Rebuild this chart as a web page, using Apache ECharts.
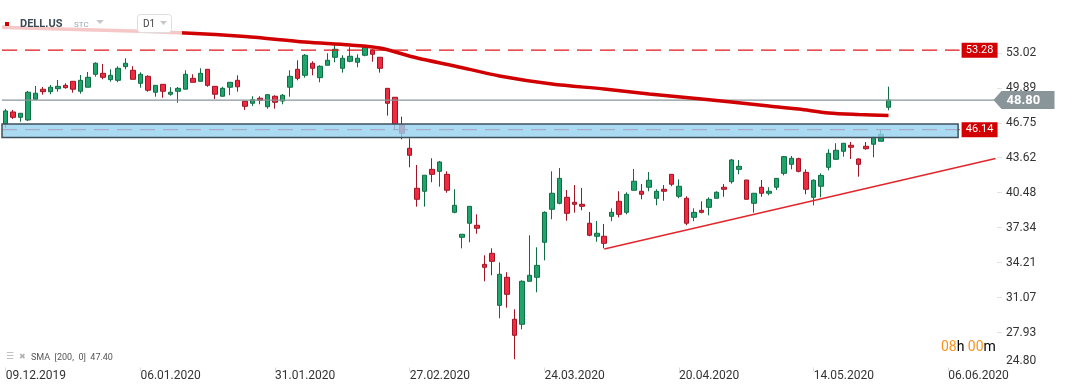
<!DOCTYPE html>
<html><head><meta charset="utf-8">
<script src="https://cdn.jsdelivr.net/npm/echarts@6/dist/echarts.min.js"></script>
<style>html,body{margin:0;padding:0;background:#fff}#c{width:1066px;height:392px}</style>
</head><body><div id="c"></div>
<script>
// ---------- DATA ----------
const dates = [
'09.12.2019','10.12.2019','11.12.2019','12.12.2019','13.12.2019','16.12.2019','17.12.2019','18.12.2019','19.12.2019','20.12.2019',
'23.12.2019','24.12.2019','26.12.2019','27.12.2019','30.12.2019','31.12.2019','02.01.2020','03.01.2020','06.01.2020','07.01.2020',
'08.01.2020','09.01.2020','10.01.2020','13.01.2020','14.01.2020','15.01.2020','16.01.2020','17.01.2020','21.01.2020','22.01.2020',
'23.01.2020','24.01.2020','27.01.2020','28.01.2020','29.01.2020','30.01.2020','31.01.2020','03.02.2020','04.02.2020','05.02.2020',
'06.02.2020','07.02.2020','10.02.2020','11.02.2020','12.02.2020','13.02.2020','14.02.2020','18.02.2020','19.02.2020','20.02.2020',
'21.02.2020','24.02.2020','25.02.2020','26.02.2020','27.02.2020','28.02.2020','02.03.2020','03.03.2020','04.03.2020','05.03.2020',
'06.03.2020','09.03.2020','10.03.2020','11.03.2020','12.03.2020','13.03.2020','16.03.2020','17.03.2020','18.03.2020','19.03.2020',
'20.03.2020','23.03.2020','24.03.2020','25.03.2020','26.03.2020','27.03.2020','30.03.2020','31.03.2020','01.04.2020','02.04.2020',
'03.04.2020','06.04.2020','07.04.2020','08.04.2020','09.04.2020','13.04.2020','14.04.2020','15.04.2020','16.04.2020','17.04.2020',
'20.04.2020','21.04.2020','22.04.2020','23.04.2020','24.04.2020','27.04.2020','28.04.2020','29.04.2020','30.04.2020','01.05.2020',
'04.05.2020','05.05.2020','06.05.2020','07.05.2020','08.05.2020','11.05.2020','12.05.2020','13.05.2020','14.05.2020','15.05.2020',
'18.05.2020','19.05.2020','20.05.2020','21.05.2020','22.05.2020','26.05.2020','27.05.2020','28.05.2020','29.05.2020',
'30.05.2020','31.05.2020','01.06.2020','02.06.2020','03.06.2020','04.06.2020','05.06.2020','06.06.2020','07.06.2020','08.06.2020',
'09.06.2020','10.06.2020','11.06.2020','12.06.2020'
];
// [open, close, low, high]
const ohlc = [
[46.65,47.82,46.29,48.00],[47.73,47.25,47.10,47.91],[47.25,47.61,46.85,47.61],[47.01,49.50,46.92,49.61],[48.87,49.41,48.87,50.06],
[49.77,49.55,49.28,49.97],[49.55,49.95,49.32,50.15],[49.82,50.03,49.55,50.60],[50.12,49.91,49.82,50.30],[50.48,49.77,49.46,50.48],
[49.59,50.57,49.37,51.05],[49.95,50.84,49.95,51.32],[51.11,52.10,50.90,52.19],[51.20,50.84,50.66,52.04],[50.63,51.02,50.45,51.56],
[50.57,51.65,50.40,51.83],[51.80,52.10,51.56,52.55],[51.47,50.66,50.66,51.83],[50.30,51.11,49.91,51.29],[50.93,49.68,49.55,51.02],
[49.50,50.12,49.10,50.12],[50.21,49.59,49.01,50.21],[49.32,49.50,49.19,49.95],[49.59,49.85,48.56,49.97],[49.77,51.11,49.77,51.47],
[50.75,50.39,50.39,51.11],[50.48,51.20,50.48,51.65],[51.56,50.12,49.99,51.56],[50.03,49.32,48.89,50.03],[49.14,49.85,49.14,49.99],
[49.95,50.39,49.23,50.39],[50.57,49.99,49.55,51.02],[48.69,48.24,47.91,48.69],[48.51,48.83,48.27,49.14],[48.96,48.78,48.42,49.14],
[48.20,49.28,48.02,49.34],[49.14,48.60,48.02,49.23],[48.71,49.23,48.42,49.34],[49.95,50.93,49.10,51.47],[51.56,50.75,50.57,52.37],
[51.02,52.82,50.81,52.93],[52.10,51.65,51.02,52.28],[50.81,51.83,50.39,51.92],[51.92,52.37,51.92,53.00],[52.64,53.36,52.19,53.74],
[51.65,52.55,51.26,52.82],[52.28,52.73,52.19,53.54],[52.19,52.55,51.74,52.91],[52.82,53.65,52.73,53.74],[53.29,52.91,52.24,53.38],
[52.64,51.65,51.26,52.64],[49.85,48.51,47.40,49.85],[49.05,46.62,46.20,49.05],[46.56,45.82,45.28,47.31],[44.47,43.84,42.76,45.37],
[40.88,39.89,39.23,42.97],[40.61,42.05,39.23,42.05],[42.58,42.13,41.42,43.57],[42.40,43.24,41.02,43.33],[42.13,40.70,40.48,42.40],
[38.72,39.35,38.63,40.79],[36.48,36.75,35.49,36.75],[37.74,39.26,36.03,39.26],[37.56,37.29,36.80,38.54],[34.05,33.79,32.53,34.86],
[35.04,34.32,33.07,35.49],[30.37,33.16,29.21,34.23],[32.89,31.36,30.16,33.34],[29.12,27.68,25.53,30.02],[28.67,32.53,28.22,32.62],
[32.53,33.07,32.53,36.66],[32.89,33.96,31.54,35.58],[36.03,38.72,34.41,38.81],[38.99,40.43,38.10,42.40],[39.53,41.77,39.44,42.70],
[40.07,38.63,37.97,40.72],[39.62,39.44,38.69,41.17],[39.44,39.26,38.90,40.91],[37.74,36.66,36.57,38.75],[36.57,36.84,36.08,37.94],
[36.57,35.94,35.49,37.67],[38.36,38.72,37.92,39.08],[39.71,38.54,38.27,40.61],[38.72,40.34,38.54,40.52],[40.70,41.51,40.70,42.61],
[40.61,40.34,39.89,41.26],[40.97,41.60,40.61,42.34],[39.98,40.61,39.35,40.79],[40.79,40.61,39.76,41.17],[42.13,41.24,41.06,42.13],
[40.16,41.06,39.98,41.68],[39.98,37.74,37.56,40.16],[38.27,38.72,37.92,39.08],[38.90,38.72,38.63,39.71],[39.17,39.89,38.45,40.07],
[39.98,40.52,39.98,40.61],[40.97,40.79,40.12,41.26],[41.47,43.42,41.29,43.51],[42.58,42.85,42.13,43.42],[41.62,39.89,39.89,41.62],
[39.53,40.43,38.69,40.43],[40.97,40.43,40.12,41.62],[40.43,40.61,40.25,40.97],[40.97,41.77,40.72,41.77],[42.22,43.72,42.04,43.78],
[43.03,43.57,42.58,43.78],[43.54,42.40,42.31,43.62],[42.31,40.79,40.34,42.58],[40.07,41.60,39.35,41.68],[41.06,42.04,40.07,42.22],
[42.76,44.02,42.49,44.38],[43.48,44.29,43.42,44.92],[44.20,44.92,43.72,44.92],[44.74,44.56,43.51,45.03],[43.51,43.03,41.92,43.57],
[44.65,44.43,44.34,45.03],[44.83,45.46,43.66,45.46],[45.10,45.73,45.10,46.17],[48.15,48.80,47.88,50.00]
];
// SMA(200) read at selected bars: [bar index, value]
const smaPoints = [
[-0.5,55.38],[0,55.32],[12,55.09],[24,54.82],[32,54.50],[40,54.01],[46,53.74],[50,53.47],[55,52.57],
[60,51.86],[66,50.96],[73,50.24],[80,49.79],[86,49.34],[93,48.89],[97,48.62],[102,48.27],[106,47.99],
[110,47.64],[114,47.50],[118,47.41]
];
const trendLine = [[80,35.43],[132.3,43.55]];
const resistance = 53.28;
const support = 46.14;
const zone = [46.65, 45.44];
const lastPrice = 48.80;
const smaLast = 47.40;
const levelEnd = 127.5;
const zoneEnd = 127.3;
const priceLineEnd = 132.3;
const yTicks = [24.80,27.93,31.07,34.21,37.34,40.48,43.62,46.75,49.89,53.02];
const yMin = 24.80, yMax = 57.78;

// ---------- CHART ----------
const chart = echarts.init(document.getElementById('c'));
const N = dates.length;
const FONT = 'Roboto';
const option = {
  animation: false,
  backgroundColor: '#fff',
  grid: {left: 2, right: 69, top: 0, bottom: 24.6, containLabel: false},
  xAxis: [
    {type: 'category', data: dates, boundaryGap: true,
     axisLine: {show: false, onZero: false}, splitLine: {show: false},
     axisTick: {show: true, interval: 17, alignWithLabel: true, length: 4, lineStyle: {color: '#dddddd'}},
     axisLabel: {interval: 17, align: 'left', margin: 3, fontSize: 12, fontFamily: FONT, color: '#333'}},
    {type: 'value', min: -0.5, max: N - 0.5, show: false, axisLine: {onZero: false}}
  ],
  yAxis: {type: 'value', position: 'right', min: yMin, max: yMax,
    axisLine: {show: false, onZero: false}, splitLine: {show: false},
    axisTick: {show: true, customValues: yTicks.slice(1), length: 5, lineStyle: {color: '#e2e2e2'}},
    axisLabel: {customValues: yTicks, margin: 9, fontSize: 12, fontFamily: FONT, color: '#333',
      formatter: v => v < yTicks[0] + 0.5 ? '{b|' + v.toFixed(2) + '}' : v.toFixed(2),
      rich: {b: {fontSize: 12, fontFamily: FONT, color: '#333', padding: [0, 0, 12, 0]}}}
  },
  series: [
    {type: 'candlestick', xAxisIndex: 0, yAxisIndex: 0, data: ohlc, barWidth: 5, z: 2,
     itemStyle: {color: '#1fa46c', color0: '#f02a3f', borderColor: '#0f6e44', borderColor0: '#a01426', borderWidth: 1}},
    {type: 'line', xAxisIndex: 1, data: [[-0.5, resistance], [levelEnd, resistance]], symbol: 'none', z: 3,
     lineStyle: {color: '#e0161b', width: 1.3, type: [15, 8]}},
    {type: 'line', xAxisIndex: 1, data: [[-0.5, support], [levelEnd, support]], symbol: 'none', z: 3,
     lineStyle: {color: '#e0161b', width: 1.3, type: [15, 8]}},
    {type: 'line', xAxisIndex: 1, data: [[-0.5, lastPrice], [priceLineEnd, lastPrice]], symbol: 'none', z: 3,
     lineStyle: {color: '#89959a', width: 1.3}},
    {type: 'custom', xAxisIndex: 1, z: 5, data: [[-0.5, zone[0], zoneEnd, zone[1]]],
     encode: {x: [0, 2], y: [1, 3]},
     renderItem: (params, api) => {
       const p1 = api.coord([api.value(0), api.value(1)]);
       const p2 = api.coord([api.value(2), api.value(3)]);
       return {type: 'rect', shape: {x: p1[0], y: p1[1], width: p2[0] - p1[0], height: p2[1] - p1[1]},
         style: {fill: 'rgba(150,210,240,0.8)', stroke: '#3f505c', lineWidth: 1.5}};
     }},
    {type: 'line', xAxisIndex: 1, data: trendLine, symbol: 'none', z: 4,
     lineStyle: {color: '#e3262b', width: 1.5}},
    {type: 'line', xAxisIndex: 1, data: smaPoints, symbol: 'none', smooth: 0.3, z: 6,
     lineStyle: {color: '#d10000', width: 3.5}}
  ]
};
chart.setOption(option);

// ---------- ANNOTATIONS (positions from the chart scales) ----------
const yP = v => chart.convertToPixel({yAxisIndex: 0}, v);
const xP = v => chart.convertToPixel({xAxisIndex: 1}, v);
const tagX = xP(levelEnd) + 2;
const yR = yP(resistance), yS = yP(support), yL = yP(lastPrice);
const xL = xP(priceLineEnd);
const g = [
  // translucent legend panel
  {type: 'rect', shape: {x: 0, y: 0, width: 182, height: 38}, style: {fill: 'rgba(255,255,255,0.78)'}, z: 100},
  {type: 'rect', shape: {x: 5, y: 22, width: 4, height: 4}, style: {fill: '#d10000'}, z: 101},
  {type: 'text', x: 20, y: 24, style: {text: 'DELL.US', font: 'bold 11px Roboto', fill: '#3e4a54', verticalAlign: 'middle'}, z: 101},
  {type: 'text', x: 74, y: 25, style: {text: 'STC', font: '8px Roboto', fill: '#9aa6b0', verticalAlign: 'middle'}, z: 101},
  {type: 'polygon', shape: {points: [[96, 20], [104, 20], [100, 24]]}, style: {fill: '#c4c8cc'}, z: 101},
  {type: 'rect', shape: {x: 137.5, y: 14.5, width: 34, height: 18, r: 3}, style: {fill: '#fff', stroke: '#dddddd', lineWidth: 1}, z: 101},
  {type: 'text', x: 143, y: 24, style: {text: 'D1', font: '10px Roboto', fill: '#444', verticalAlign: 'middle'}, z: 102},
  {type: 'polygon', shape: {points: [[160, 21], [167, 21], [163.5, 25]]}, style: {fill: '#c4c8cc'}, z: 102},
  // price tags
  {type: 'rect', shape: {x: tagX, y: yR - 7.5, width: 36, height: 15}, style: {fill: '#d20000'}, z: 110},
  {type: 'text', x: tagX + 18, y: yR, style: {text: resistance.toFixed(2), font: '11px Roboto', fill: '#fff', align: 'center', verticalAlign: 'middle'}, z: 111},
  {type: 'rect', shape: {x: tagX, y: yS - 7.5, width: 36, height: 15}, style: {fill: '#d20000'}, z: 110},
  {type: 'text', x: tagX + 18, y: yS, style: {text: support.toFixed(2), font: '11px Roboto', fill: '#fff', align: 'center', verticalAlign: 'middle'}, z: 111},
  {type: 'polygon', shape: {points: [[xL - 2, yL], [xL + 6, yL - 9], [xL + 59, yL - 9], [xL + 59, yL + 9], [xL + 6, yL + 9]]}, style: {fill: '#8a9599'}, z: 110},
  {type: 'text', x: xL + 11, y: yL + 0.5, style: {text: lastPrice.toFixed(2), font: 'bold 13px Roboto', fill: '#fff', verticalAlign: 'middle'}, z: 111},
  // indicator legend bottom-left
  {type: 'text', x: 6, y: 357, style: {text: '☰', font: '9px "DejaVu Sans"', fill: '#b0b0b0', verticalAlign: 'middle'}, z: 101},
  {type: 'text', x: 19, y: 357, style: {text: '✖', font: '8px "DejaVu Sans"', fill: '#b0b0b0', verticalAlign: 'middle'}, z: 101},
  {type: 'text', x: 31, y: 357.5, style: {text: 'SMA  [200,  0]  ' + smaLast.toFixed(2), font: '9px Roboto', fill: '#555', verticalAlign: 'middle'}, z: 101},
  // countdown
  {type: 'text', x: 941, y: 347, style: {text: '{o|08}{g|h} {o|00}{g|m}', verticalAlign: 'middle',
    rich: {o: {fontSize: 14, fontFamily: FONT, fill: '#f7931e', color: '#f7931e'}, g: {fontSize: 14, fontFamily: FONT, color: '#b9b9b9'}}}, z: 101}
];
chart.setOption({graphic: g});
</script>
</body></html>
